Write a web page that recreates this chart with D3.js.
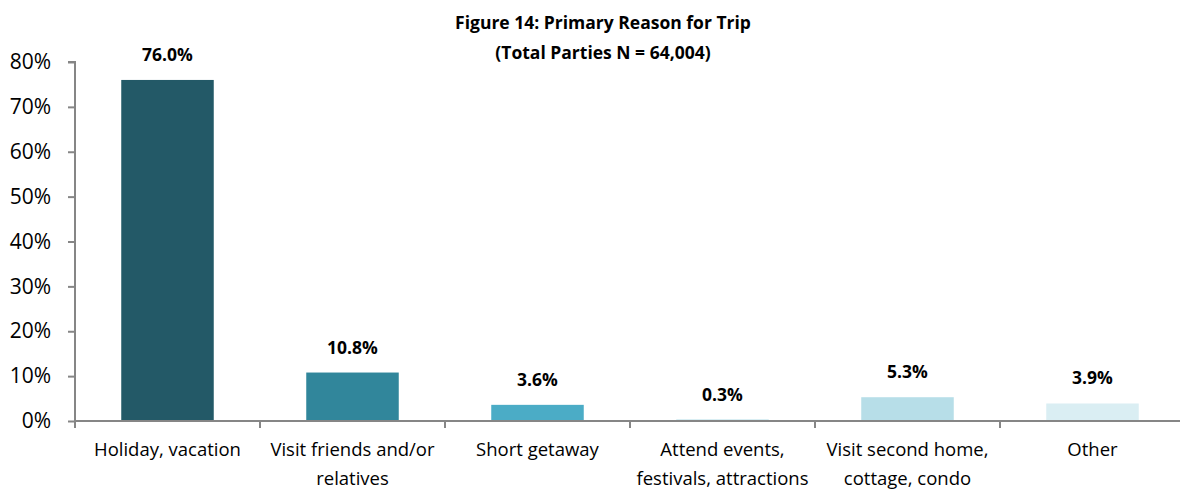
<!DOCTYPE html>
<html>
<head>
<meta charset="utf-8">
<script src="https://cdn.jsdelivr.net/npm/d3@7"></script>
<style>
  html, body { margin: 0; padding: 0; background: #fff; }
  svg { display: block; }
  text { font-family: "Open Sans", "DejaVu Sans", sans-serif; fill: #000; }
</style>
</head>
<body>
<svg id="chart" width="1180" height="491"></svg>
<script>
const categories = [
  ["Holiday, vacation"],
  ["Visit friends and/or", "relatives"],
  ["Short getaway"],
  ["Attend events,", "festivals, attractions"],
  ["Visit second home,", "cottage, condo"],
  ["Other"]
];
const values = [76.0, 10.8, 3.6, 0.3, 5.3, 3.9];
const colors = ["#235967", "#31869b", "#4bacc6", "#92cddc", "#b7dee8", "#daeef3"];
const yTicks = [0, 10, 20, 30, 40, 50, 60, 70, 80];
const titleLines = ["Figure 14: Primary Reason for Trip", "(Total Parties N = 64,004)"];

(function () {
const svg = d3.select("#chart");
const mLeft = 75, mRight = 1185, mTop = 62, mBottom = 421;
const axisColor = "#868686";

const x = d3.scaleBand().domain(d3.range(values.length)).range([mLeft, mRight]).paddingInner(0.5).paddingOuter(0.25);
const y = d3.scaleLinear().domain([0, 80]).range([mBottom, mTop]);

// title
svg.append("g").selectAll("text").data(titleLines).join("text")
  .attr("x", 603).attr("y", (d, i) => 29 + i * 30)
  .attr("text-anchor", "middle")
  .style("font-size", "17.5px").style("font-weight", "bold")
  .text(d => d);

// bars
svg.append("g").selectAll("rect").data(values).join("rect")
  .attr("x", (d, i) => x(i))
  .attr("width", x.bandwidth())
  .attr("y", d => y(d))
  .attr("height", d => mBottom - y(d))
  .attr("fill", (d, i) => colors[i]);

// value labels
svg.append("g").selectAll("text").data(values).join("text")
  .attr("x", (d, i) => x(i) + x.bandwidth() / 2)
  .attr("y", d => y(d) - 19)
  .attr("text-anchor", "middle")
  .style("font-size", "17.5px").style("font-weight", "bold")
  .text(d => d.toFixed(1) + "%");

// y axis
const yAxis = svg.append("g").attr("transform", `translate(${mLeft},0)`)
  .call(d3.axisLeft(y).tickValues(yTicks).tickFormat(d => d + "%").tickSize(7).tickPadding(17));
yAxis.select(".domain").attr("stroke", axisColor).attr("stroke-width", 2).attr("d", `M-7,${mTop}H0V${mBottom}`);
yAxis.selectAll(".tick line").attr("stroke", axisColor).attr("stroke-width", 2);
yAxis.selectAll(".tick text").style("font-size", "21px").style("font-family", "'Open Sans', sans-serif").attr("fill", "#000");

// x axis
const boundaries = d3.range(values.length + 1).map(i => mLeft + i * x.step());
const xg = svg.append("g");
xg.append("line").attr("x1", mLeft).attr("x2", mRight).attr("y1", mBottom).attr("y2", mBottom)
  .attr("stroke", axisColor).attr("stroke-width", 2);
xg.selectAll("line.tk").data(boundaries).join("line").attr("class", "tk")
  .attr("x1", d => d).attr("x2", d => d).attr("y1", mBottom).attr("y2", mBottom + 7)
  .attr("stroke", axisColor).attr("stroke-width", 2);

const lbl = svg.append("g").selectAll("text").data(categories).join("text")
  .attr("x", (d, i) => x(i) + x.bandwidth() / 2)
  .attr("y", 456)
  .attr("text-anchor", "middle")
  .style("font-size", "18.5px");
lbl.selectAll("tspan").data(d => d).join("tspan")
  .attr("x", function() { return d3.select(this.parentNode).attr("x"); })
  .attr("dy", (d, i) => i === 0 ? 0 : 29)
  .text(d => d);
})();
</script>
</body>
</html>
